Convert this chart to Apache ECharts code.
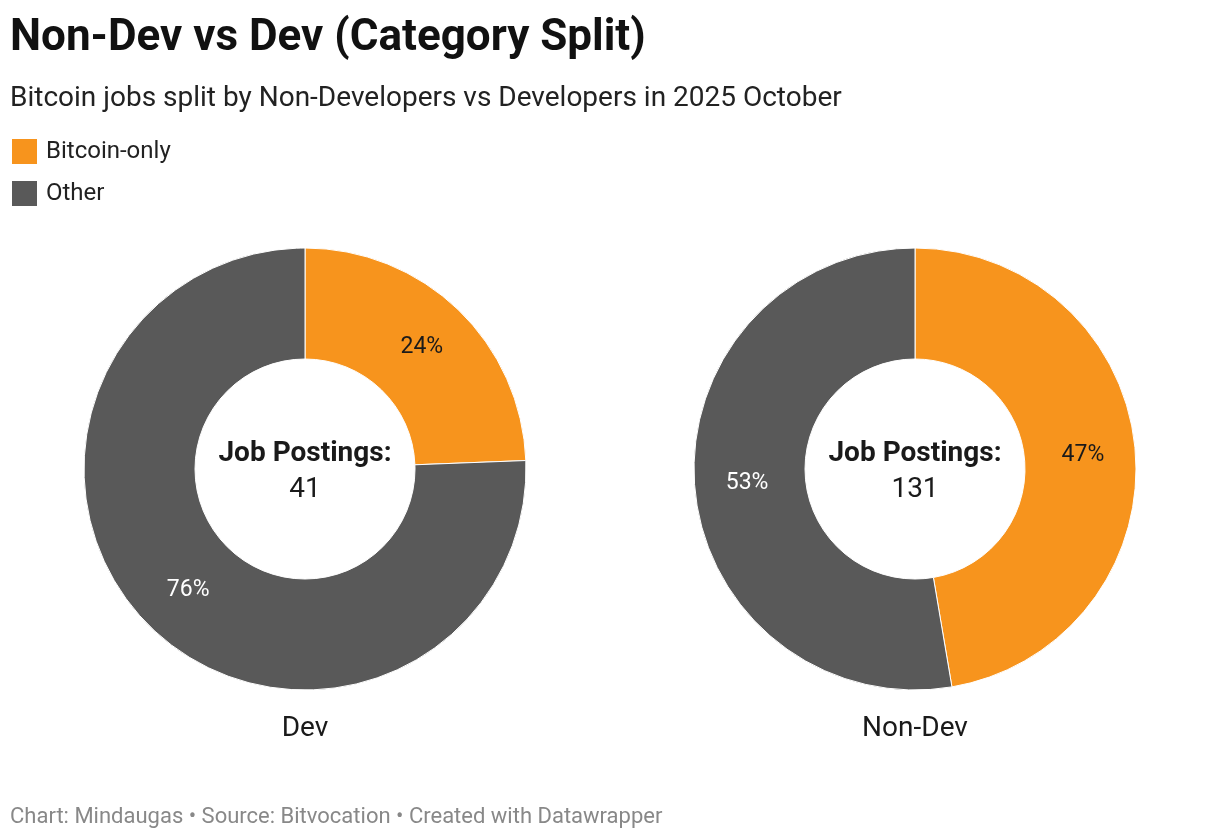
<!DOCTYPE html>
<html>
<head>
<meta charset="utf-8">
<script src="https://cdn.jsdelivr.net/npm/echarts@6/dist/echarts.min.js"></script>
<style>
html,body{margin:0;padding:0;background:#fff;}
#main{width:1220px;height:838px;}
</style>
</head>
<body>
<div id="main"></div>
<script>
const categories = ['Bitcoin-only', 'Other'];
const groups = ['Dev', 'Non-Dev'];
const devValues = [10, 31];
const nonDevValues = [62, 69];
const colors = ['#f7941d', '#595959'];
const labelColors = ['#1a1a1a', '#ffffff'];

const chart = echarts.init(document.getElementById('main'), null, {renderer: 'canvas'});
const FONT = 'Roboto, "Noto Sans", sans-serif';
const centers = [[305, 469], [915, 469]];
const allValues = [devValues, nonDevValues];

function makeSeries(i) {
  return {
    type: 'pie',
    name: groups[i],
    center: centers[i],
    radius: [110, 221],
    startAngle: 90,
    clockwise: true,
    animation: false,
    silent: true,
    itemStyle: {borderColor: '#ffffff', borderWidth: 1},
    label: {
      show: true,
      position: 'inside',
      fontFamily: FONT,
      fontSize: 23,
      formatter: p => Math.round(p.percent) + '%'
    },
    labelLine: {show: false},
    data: categories.map((c, k) => ({
      name: c,
      value: allValues[i][k],
      itemStyle: {color: colors[k]},
      label: {color: labelColors[k]}
    }))
  };
}

const titles = [
  {text: 'Non-Dev vs Dev (Category Split)', left: 10, top: 17, padding: 0,
   textStyle: {fontFamily: FONT, fontSize: 44, fontWeight: 'bold', color: '#111'}},
  {text: 'Bitcoin jobs split by Non-Developers vs Developers in 2025 October', left: 10, top: 85, padding: 0,
   textStyle: {fontFamily: FONT, fontSize: 28, fontWeight: 'normal', color: '#222'}},
  {text: 'Chart: Mindaugas • Source: Bitvocation • Created with Datawrapper', left: 10, top: 806, padding: 0,
   textStyle: {fontFamily: FONT, fontSize: 22, fontWeight: 'normal', color: '#888'}}
];
groups.forEach((g, i) => {
  const total = allValues[i].reduce((a, b) => a + b, 0);
  titles.push({
    text: 'Job Postings:', left: centers[i][0], top: 440, textAlign: 'center', padding: 0,
    textStyle: {fontFamily: FONT, fontSize: 28, fontWeight: 'bold', color: '#1a1a1a'}
  });
  titles.push({
    text: String(total), left: centers[i][0], top: 476, textAlign: 'center', padding: 0,
    textStyle: {fontFamily: FONT, fontSize: 28, fontWeight: 'normal', color: '#1a1a1a'}
  });
  titles.push({
    text: g, left: centers[i][0], top: 715, textAlign: 'center', padding: 0,
    textStyle: {fontFamily: FONT, fontSize: 28, fontWeight: 'normal', color: '#1a1a1a'}
  });
});

chart.setOption({
  backgroundColor: '#ffffff',
  animation: false,
  title: titles,
  legend: {
    orient: 'vertical',
    left: 10, top: 137, padding: 0,
    icon: 'rect',
    itemWidth: 27, itemHeight: 27, itemGap: 13,
    selectedMode: false,
    data: categories,
    textStyle: {fontFamily: FONT, fontSize: 24, color: '#222', padding: [0, 0, 0, 3]}
  },
  series: [makeSeries(0), makeSeries(1)]
});
</script>
</body>
</html>
